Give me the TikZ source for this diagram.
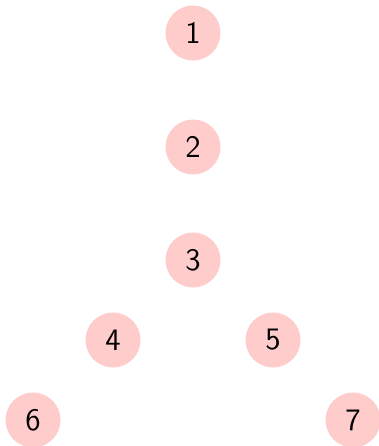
\documentclass[tikz,border=0pt]{standalone}
\usepackage{tikz}

\begin{document}
\begin{tikzpicture}[x=0.0135cm,y=-0.0135cm]
%----------vertice---------
\tikzset{vertice/.style={
circle,
fill=red!20,
inner sep=0pt,
minimum size=55*0.0135cm,
font=\sffamily\large
}};

\useasboundingbox (0,0) rectangle (379,446);

%------------ nodos---------------
\node [vertice] (n1) at (193,33) {1};
\node [vertice] (n2) at (193,147) {2};
\node [vertice] (n3) at (193,260) {3};
\node [vertice] (n4) at (113,340) {4};
\node [vertice] (n5) at (273,340) {5};
\node [vertice] (n6) at (33,420) {6};
\node [vertice] (n7) at (353,420) {7};
\end{tikzpicture}
\end{document}
